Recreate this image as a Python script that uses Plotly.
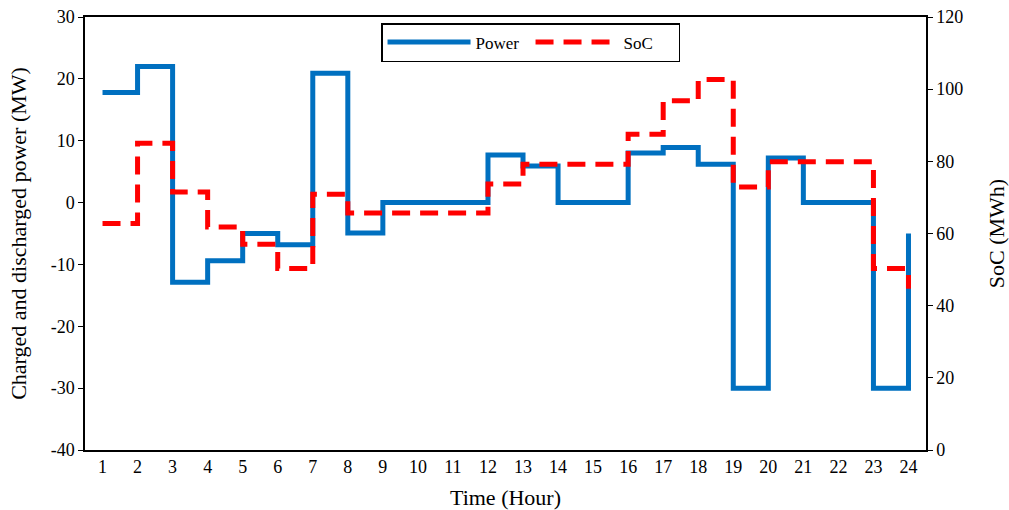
import plotly.graph_objects as go

hours = list(range(1, 25))
hour_labels = [str(h) for h in hours]
power = [17.8, 22.0, -12.9, -9.4, -5.0, -6.8, 20.9, -4.9, 0, 0, 0, 7.7,
         5.9, 0, 0, 8.0, 8.9, 6.2, -30.0, 7.2, 0, 0, -30.0, -5.0]
soc = [62.8, 85.0, 71.5, 61.8, 57.0, 50.3, 70.9, 65.7, 65.7, 65.7, 65.7, 73.7,
       79.2, 79.2, 79.2, 87.5, 96.8, 102.7, 72.9, 79.9, 79.9, 79.9, 50.3, 44.7]
power_ticks = [-40, -30, -20, -10, 0, 10, 20, 30]
power_tick_labels = ["-40", "-30", "-20", "-10", "0", "10", "20", "30"]
soc_ticks = [0, 20, 40, 60, 80, 100, 120]
boundaries = [h + 0.5 for h in hours[:-1]]

FONT = "Liberation Serif, Times New Roman, serif"

fig = go.Figure()
fig.add_trace(go.Scatter(x=hours, y=power, name="Power", mode="lines",
                         line=dict(color="#0070C0", width=5, shape="hv"),
                         xaxis="x", yaxis="y"))
fig.add_trace(go.Scatter(x=hours, y=soc, name="SoC", mode="lines",
                         line=dict(color="#FF0000", width=5, shape="hv", dash="18px,10px"),
                         xaxis="x", yaxis="y2"))

y_min, y_max = -40, 30
fig.update_layout(
    width=1009, height=510,
    margin=dict(l=85, r=83, t=17, b=60, autoexpand=False),
    paper_bgcolor="white", plot_bgcolor="white",
    font=dict(family=FONT, size=18, color="black"),
    showlegend=True,
    legend=dict(orientation="h", x=0.352, y=0.986, xanchor="left", yanchor="top",
                bordercolor="black", borderwidth=1.5, bgcolor="white",
                font=dict(family=FONT, size=17), itemwidth=83, entrywidth=50,
                tracegroupgap=0),
    xaxis=dict(range=[0.5, 24.5], tickmode="array", tickvals=hours, ticktext=hour_labels,
               showline=True, linecolor="black", linewidth=1.5, mirror=True,
               ticks="", showgrid=False, zeroline=False, automargin=False,
               title=dict(text="Time (Hour)", standoff=14),
               tickfont=dict(size=18)),
    xaxis2=dict(range=[0.5, 24.5], overlaying="x", anchor="free",
                position=(0 - y_min) / (y_max - y_min),
                tickmode="array", tickvals=boundaries, showticklabels=False,
                showline=True, linecolor="black", linewidth=1, automargin=False,
                ticks="outside", ticklen=5, tickcolor="black", showgrid=False, zeroline=False),
    yaxis=dict(range=[y_min, y_max], tickmode="array", tickvals=power_ticks,
               ticktext=power_tick_labels, showline=True, linecolor="black", linewidth=1.5,
               ticks="outside", ticklen=5, tickcolor="black", showgrid=False, zeroline=False,
               automargin=False,
               title=dict(text="Charged and discharged power (MW)", standoff=18),
               tickfont=dict(size=18)),
    yaxis2=dict(range=[0, 120], tickmode="array", tickvals=soc_ticks,
                overlaying="y", side="right", anchor="x",
                showline=True, linecolor="black", linewidth=1.5, automargin=False,
                ticks="outside", ticklen=5, tickcolor="black", showgrid=False, zeroline=False,
                title=dict(text="SoC (MWh)", standoff=27),
                tickfont=dict(size=18)),
)

fig.write_html("out.html", config={"displayModeBar": False},
               post_script="document.body.style.margin='0';document.body.style.overflow='hidden';")
